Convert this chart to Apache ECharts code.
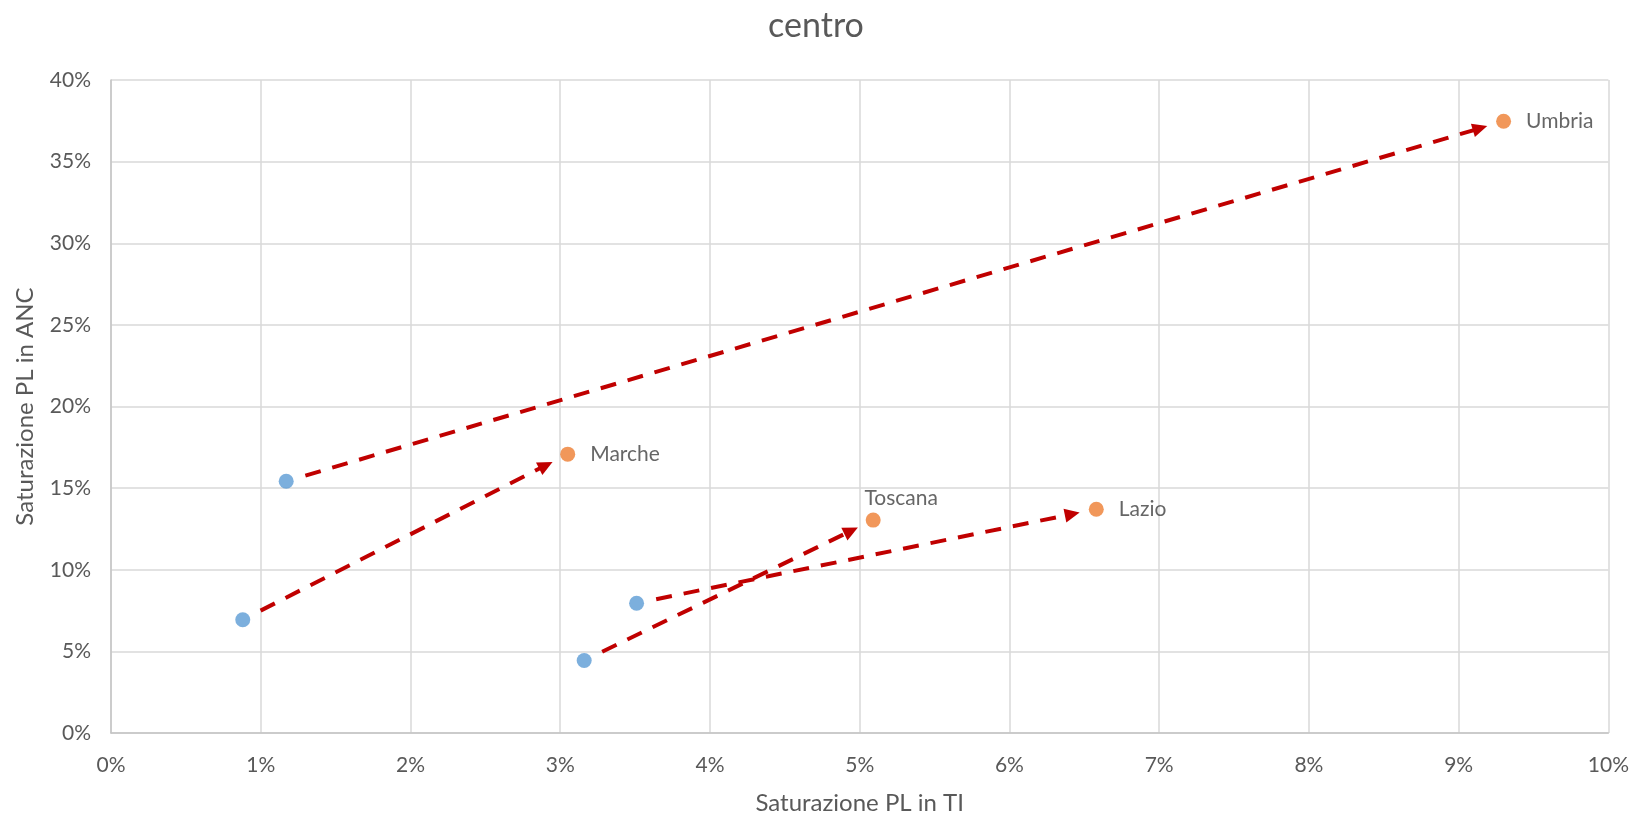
<!DOCTYPE html>
<html>
<head>
<meta charset="utf-8">
<title>centro</title>
<script src="https://cdn.jsdelivr.net/npm/echarts@6/dist/echarts.min.js"></script>
<style>
  html, body { margin: 0; padding: 0; background: #ffffff; }
  #chart { width: 1632px; height: 820px; }
</style>
</head>
<body>
<div id="chart"></div>
<script>
// Regions of central Italy: saturation of PL in TI (x) and in ANC (y), in percent
const regions  = ['Umbria', 'Marche', 'Toscana', 'Lazio'];
const tiFrom   = [1.17, 0.88, 3.16, 3.51];
const ancFrom  = [15.42, 6.94, 4.44, 7.95];
const tiTo     = [9.30, 3.05, 5.09, 6.58];
const ancTo    = [37.47, 17.08, 13.04, 13.71];

const xRange = [0, 10, 1];   // min, max, step (%)
const yRange = [0, 40, 5];

const TEXT = '#595959';
const GRID = '#D9D9D9';
const AXIS = '#C4C4C4';
const BLUE = '#5B9BD5';
const ORANGE = '#ED7D31';
const RED = '#C00000';
const FONT = 'Lato, "Open Sans", sans-serif';

// Label placement per region
const labelSide = { Toscana: 'top' };

const fromPoints = regions.map((r, i) => [tiFrom[i], ancFrom[i]]);
const toPoints = regions.map((r, i) => {
  const side = labelSide[r] || 'right';
  return {
    value: [tiTo[i], ancTo[i]],
    name: r,
    label: side === 'top'
      ? { position: 'top', distance: 4, offset: [28, 0] }
      : { position: 'right', distance: 15 }
  };
});
const arrows = regions.map((r, i) => [tiFrom[i], ancFrom[i], tiTo[i], ancTo[i]]);

// Dashed arrow from the first point to the second, kept clear of both markers
const START_GAP = 20, END_GAP = 17, HEAD_LEN = 15, HEAD_W = 14;
function renderArrow(params, api) {
  const p0 = api.coord([api.value(0), api.value(1)]);
  const p1 = api.coord([api.value(2), api.value(3)]);
  const dx = p1[0] - p0[0], dy = p1[1] - p0[1];
  const len = Math.hypot(dx, dy);
  const ux = dx / len, uy = dy / len;
  const nx = -uy, ny = ux;
  const a = [p0[0] + ux * START_GAP, p0[1] + uy * START_GAP];
  const tip = [p1[0] - ux * END_GAP, p1[1] - uy * END_GAP];
  const base = [tip[0] - ux * HEAD_LEN, tip[1] - uy * HEAD_LEN];
  return {
    type: 'group',
    children: [
      {
        type: 'line',
        shape: { x1: a[0], y1: a[1], x2: base[0] + ux * 2, y2: base[1] + uy * 2 },
        style: { stroke: RED, lineWidth: 4, lineDash: [16, 12], lineCap: 'butt', fill: null }
      },
      {
        type: 'polygon',
        shape: {
          points: [
            tip,
            [base[0] + nx * HEAD_W / 2, base[1] + ny * HEAD_W / 2],
            [base[0] - nx * HEAD_W / 2, base[1] - ny * HEAD_W / 2]
          ]
        },
        style: { fill: RED, stroke: null }
      }
    ]
  };
}

const chart = echarts.init(document.getElementById('chart'), null, { renderer: 'canvas' });

const axisCommon = {
  type: 'value',
  nameLocation: 'middle',
  nameTextStyle: { color: TEXT, fontSize: 24, fontFamily: FONT },
  axisLine: { show: true, lineStyle: { color: AXIS, width: 1.5 } },
  axisTick: { show: false },
  axisLabel: { color: TEXT, fontSize: 21, fontFamily: FONT, formatter: '{value}%' },
  splitLine: { show: true, lineStyle: { color: GRID, width: 1.5 } }
};

chart.setOption({
  animation: false,
  backgroundColor: '#ffffff',
  title: {
    text: 'centro',
    left: 'center',
    top: 4,
    textStyle: { color: TEXT, fontSize: 34, fontWeight: 'normal', fontFamily: FONT }
  },
  grid: { left: 111, right: 22, top: 80, bottom: 79, containLabel: false },
  xAxis: Object.assign({}, axisCommon, {
    name: 'Saturazione PL in TI',
    nameGap: 58,
    min: xRange[0], max: xRange[1], interval: xRange[2],
    axisLabel: Object.assign({}, axisCommon.axisLabel, { margin: 22 })
  }),
  yAxis: Object.assign({}, axisCommon, {
    name: 'Saturazione PL in ANC',
    nameGap: 74,
    min: yRange[0], max: yRange[1], interval: yRange[2],
    axisLabel: Object.assign({}, axisCommon.axisLabel, { margin: 20 })
  }),
  series: [
    {
      type: 'custom',
      name: 'direzione',
      renderItem: renderArrow,
      encode: { x: [0, 2], y: [1, 3] },
      data: arrows,
      z: 2,
      silent: true
    },
    {
      type: 'scatter',
      name: 'inizio',
      data: fromPoints,
      symbolSize: 15,
      itemStyle: { color: BLUE },
      z: 3
    },
    {
      type: 'scatter',
      name: 'fine',
      data: toPoints,
      symbolSize: 15,
      itemStyle: { color: ORANGE },
      label: {
        show: true,
        formatter: '{b}',
        color: '#404040',
        fontSize: 21,
        fontFamily: FONT
      },
      z: 3
    }
  ]
});
</script>
</body>
</html>
